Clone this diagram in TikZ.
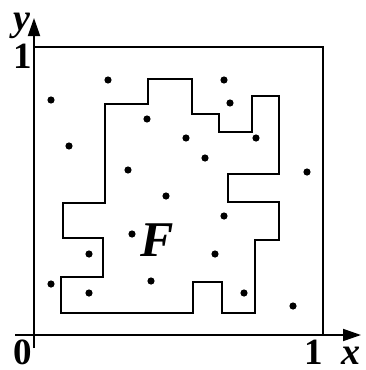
\documentclass[tikz,border=0pt]{standalone}
\usepackage{fontspec}
\setmainfont{Liberation Serif}
\usepackage{tikz}
\usetikzlibrary{arrows.meta}

\begin{document}
\begin{tikzpicture}[
  x=1pt, y=-1pt,
  axis/.style={line width=1.8pt, -{Triangle[length=18pt, width=12pt]}},
  frame/.style={line width=1.8pt},
  region/.style={line width=1.4pt, line join=miter},
  dot/.style={fill=black},
  lbl/.style={font=\fontsize{37}{40}\selectfont\bfseries, inner sep=0pt,
    text depth=0pt, anchor=base},
  bigl/.style={font=\fontsize{50}{54}\selectfont\bfseries\itshape, inner sep=0pt},
]
  \useasboundingbox (0,0) rectangle (365,370);

  % unit square
  \draw[frame] (34,47) -- (323,47) -- (323,335);

  % axes
  \draw[axis] (15,335) -- (361,335);
  \draw[axis] (34,348) -- (34,18);

  % the region F
  \draw[region] (105,104) -- (148,104) -- (148,79) -- (192,79) -- (192,114)
    -- (219,114) -- (219,132) -- (252,132) -- (252,96) -- (279,96)
    -- (279,174) -- (228,174) -- (228,202) -- (279,202) -- (279,240)
    -- (255,240) -- (255,313) -- (222,313) -- (222,282) -- (193,282)
    -- (193,313) -- (61,313) -- (61,277) -- (103,277) -- (103,238)
    -- (63,238) -- (63,203) -- (105,203) -- cycle;

  % random points
  \foreach \px/\py in {108/80, 224/80, 51/100, 230/103, 147/119, 186/138,
      256/138, 69/146, 205/158, 128/170, 307/172, 166/196, 224/216,
      132/234, 89/254, 215/254, 151/281, 51/284, 89/293, 244/293, 293/306}
    \fill[dot] (\px,\py) circle (3.6pt);

  % labels
  \node[lbl, font=\fontsize{38}{42}\selectfont\bfseries\itshape] (ylab) at (22,30) {y};
  \node[lbl] (yone) at (23,68) {1};
  \node[lbl] (zero) at (23,364) {0};
  \node[lbl] (xone) at (314,364) {1};
  \node[lbl, font=\fontsize{38}{42}\selectfont\bfseries\itshape] (xlab) at (351,364) {x};
  \node[bigl] (flab) at (157,240) {F};
\end{tikzpicture}
\end{document}
